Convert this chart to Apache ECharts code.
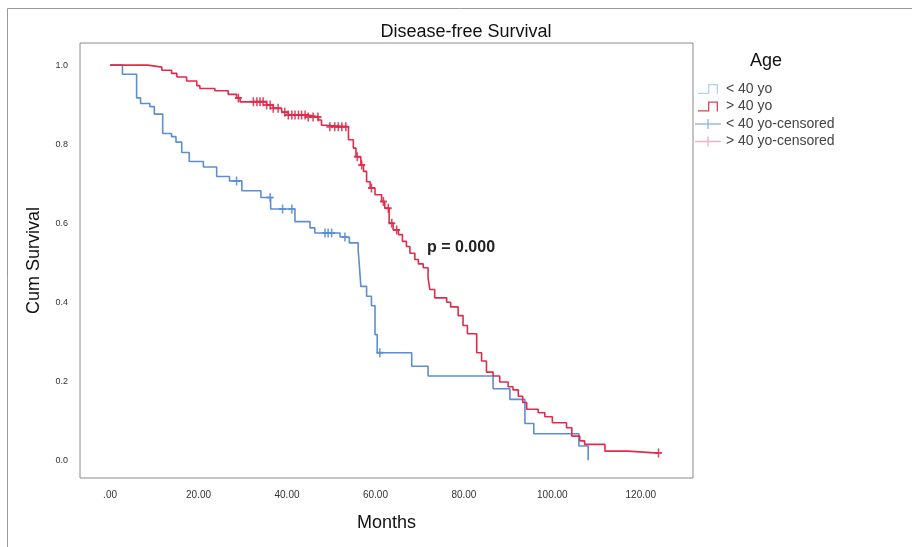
<!DOCTYPE html>
<html lang="en">
<head>
<meta charset="UTF-8">
<title>Disease-free Survival</title>
<script src="https://cdn.jsdelivr.net/npm/echarts@6.0.0/dist/echarts.min.js"></script>
</head>
<body style="margin:0;background:#fff;">
<div id="main" style="width:912px;height:547px;"></div>
<script>
// < 40 yo : event time (months) and survival after the event
const youngTimes = [0, 2.8, 6.0, 6.9, 9.0, 10.0, 11.9, 13.9, 14.9, 16.2, 17.9, 21.1, 24.1, 27.0, 29.8, 34.1, 36.3, 41.8, 45.2, 46.3, 52.0, 54.1, 56.1, 56.4, 56.7, 58.0, 59.1, 59.9, 60.4, 68.2, 71.9, 86.6, 90.4, 93.8, 95.8, 106.0, 108.1];
const youngSurv = [1.0, 0.977, 0.917, 0.903, 0.895, 0.876, 0.827, 0.819, 0.805, 0.779, 0.756, 0.742, 0.718, 0.707, 0.682, 0.665, 0.636, 0.604, 0.588, 0.575, 0.565, 0.550, 0.531, 0.487, 0.440, 0.415, 0.391, 0.318, 0.272, 0.238, 0.213, 0.181, 0.154, 0.093, 0.067, 0.036, 0.0];
const youngCensor = [28.6, 36.2, 39.0, 41.1, 48.6, 49.3, 50.1, 53.1, 61.0];

// > 40 yo
const oldTimes = [0, 8.5, 11.7, 13.9, 15.1, 17.3, 19.6, 20.3, 23.7, 26.7, 28.6, 29.4, 35.4, 36.9, 38.8, 40.3, 44.4, 47.1, 47.8, 48.6, 53.9, 55.0, 55.6, 56.7, 57.3, 58.0, 58.8, 59.9, 61.4, 62.1, 63.1, 64.0, 65.2, 66.1, 67.0, 67.8, 68.9, 69.7, 70.8, 71.9, 72.3, 73.4, 76.1, 77.0, 78.7, 79.8, 80.8, 82.9, 84.0, 85.1, 86.6, 88.1, 90.0, 91.1, 92.3, 93.3, 94.2, 96.8, 98.3, 100.0, 103.2, 104.4, 106.2, 107.3, 111.9, 117.1, 124.0];
const oldSurv = [1.0, 0.995, 0.987, 0.979, 0.970, 0.960, 0.948, 0.941, 0.935, 0.926, 0.917, 0.907, 0.899, 0.891, 0.881, 0.874, 0.869, 0.861, 0.848, 0.844, 0.811, 0.790, 0.768, 0.747, 0.731, 0.705, 0.689, 0.672, 0.655, 0.638, 0.600, 0.583, 0.571, 0.554, 0.541, 0.524, 0.508, 0.497, 0.487, 0.461, 0.432, 0.411, 0.400, 0.388, 0.366, 0.341, 0.320, 0.272, 0.251, 0.223, 0.213, 0.198, 0.186, 0.178, 0.162, 0.146, 0.129, 0.120, 0.110, 0.095, 0.082, 0.061, 0.049, 0.040, 0.023, 0.018, 0.018];
const oldCensor = [29.0, 32.4, 33.2, 33.9, 34.6, 35.4, 36.2, 36.9, 38.0, 39.5, 40.3, 41.1, 41.8, 42.6, 43.3, 44.1, 44.8, 45.9, 47.0, 49.7, 50.8, 51.6, 52.4, 53.3, 55.9, 56.9, 59.1, 61.8, 62.9, 63.7, 64.8, 124.0];

const xTicks = [0, 20, 40, 60, 80, 100, 120];
const yTicks = [0, 0.2, 0.4, 0.6, 0.8, 1.0];

const FONT = 'Liberation Sans, Arial, sans-serif';
const blue = '#5b8ed3';
const red = '#e22a4a';

const zip = (ts, ss) => ts.map((t, i) => [t, ss[i]]);
// survival value at time t (step function)
const survAt = (ts, ss, t) => {
    let v = ss[0];
    for (let i = 0; i < ts.length; i++) {
        if (ts[i] <= t) v = ss[i];
    }
    return v;
};
const censorPts = (cs, ts, ss) => cs.map(t => [t, survAt(ts, ss, t)]);

const stepIcon = 'path://M0,8.7H10V0H20V10H18.7V1.3H11.3V10H0Z';
const crossIcon = 'path://M0,4.3H12.3V0H13.7V4.3H26V5.7H13.7V10H12.3V5.7H0Z';
const plusMark = 'path://M3.5,0H5.5V3.5H9V5.5H5.5V9H3.5V5.5H0V3.5H3.5Z';

const chart = echarts.init(document.getElementById('main'));
chart.setOption({
    animation: false,
    backgroundColor: '#fff',
    textStyle: {fontFamily: FONT},
    grid: {
        left: 80, top: 43, right: 219, bottom: 69,
        show: true, borderColor: '#8a8a8a', borderWidth: 1
    },
    legend: {
        orient: 'vertical',
        left: 695,
        top: 82,
        itemWidth: 26,
        itemHeight: 10,
        itemGap: 3.5,
        padding: 0,
        textStyle: {fontSize: 14, color: '#444', fontFamily: FONT},
        data: [
            {name: '< 40 yo', icon: stepIcon, itemStyle: {color: '#b5cfee'}},
            {name: '> 40 yo', icon: stepIcon, itemStyle: {color: '#e0405c'}},
            {name: '< 40 yo-censored', icon: crossIcon, itemStyle: {color: '#7fa7df'}},
            {name: '> 40 yo-censored', icon: crossIcon, itemStyle: {color: '#f09cb0'}}
        ]
    },
    xAxis: {
        type: 'value',
        min: -6.8,
        max: 131.8,
        axisLine: {show: false},
        axisTick: {show: false},
        splitLine: {show: false},
        axisLabel: {
            customValues: xTicks,
            formatter: v => v === 0 ? '.00' : v.toFixed(2),
            fontSize: 10,
            color: '#333',
            margin: 12
        },
        name: 'Months',
        nameLocation: 'middle',
        nameGap: 36,
        nameTextStyle: {fontSize: 18, color: '#111', fontFamily: FONT}
    },
    yAxis: {
        type: 'value',
        min: -0.045,
        max: 1.056,
        axisLine: {show: false},
        axisTick: {show: false},
        splitLine: {show: false},
        axisLabel: {
            customValues: yTicks,
            formatter: v => v.toFixed(1),
            fontSize: 9,
            color: '#333',
            margin: 12
        },
        name: 'Cum Survival',
        nameLocation: 'middle',
        nameGap: 37,
        nameTextStyle: {fontSize: 18, color: '#111', fontFamily: FONT}
    },
    graphic: [
        {
            type: 'rect', silent: true,
            shape: {x: 7.5, y: 8.5, width: 1000, height: 1000},
            style: {fill: 'none', stroke: '#9a9a9a', lineWidth: 1}
        },
        {
            type: 'text', x: 466, y: 32,
            style: {text: 'Disease-free Survival', font: '18px ' + FONT, fill: '#111', align: 'center', verticalAlign: 'middle'}
        },
        {
            type: 'text', x: 766, y: 61,
            style: {text: 'Age', font: '18px ' + FONT, fill: '#111', align: 'center', verticalAlign: 'middle'}
        },
        {
            type: 'text', x: 461, y: 248,
            style: {text: 'p = 0.000', font: 'bold 16px ' + FONT, fill: '#222', align: 'center', verticalAlign: 'middle'}
        }
    ],
    series: [
        {
            name: '< 40 yo',
            type: 'line',
            step: 'end',
            showSymbol: false,
            color: blue,
            lineStyle: {width: 1.6, color: blue},
            data: zip(youngTimes, youngSurv)
        },
        {
            name: '> 40 yo',
            type: 'line',
            step: 'end',
            showSymbol: false,
            color: red,
            lineStyle: {width: 1.6, color: red},
            data: zip(oldTimes, oldSurv)
        },
        {
            name: '< 40 yo-censored',
            type: 'scatter',
            symbol: plusMark,
            symbolSize: [7, 9],
            itemStyle: {color: '#4a7fc6'},
            data: censorPts(youngCensor, youngTimes, youngSurv)
        },
        {
            name: '> 40 yo-censored',
            type: 'scatter',
            symbol: plusMark,
            symbolSize: [7, 9],
            itemStyle: {color: '#d01c3c'},
            data: censorPts(oldCensor, oldTimes, oldSurv)
        }
    ]
});
</script>
</body>
</html>
